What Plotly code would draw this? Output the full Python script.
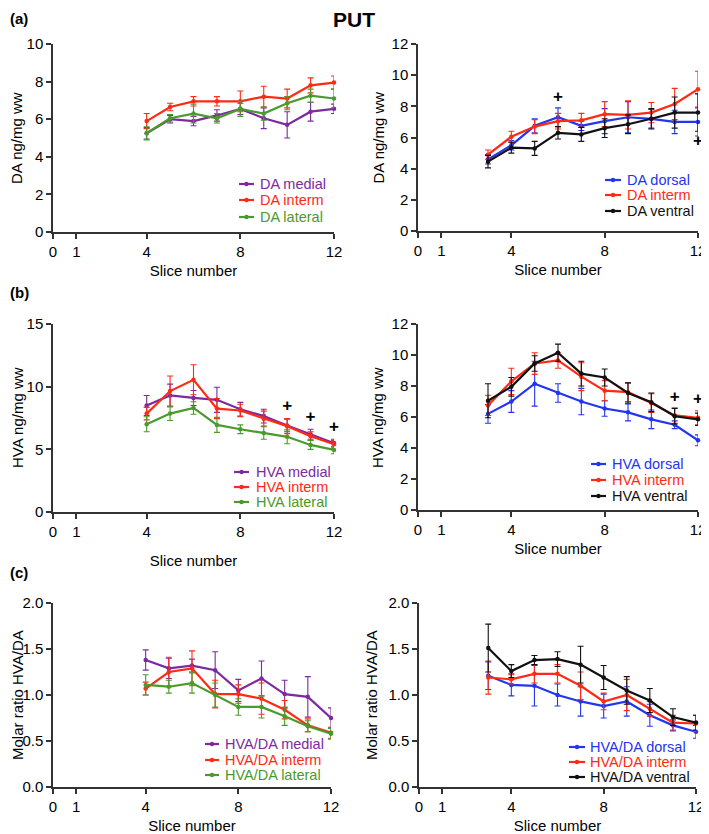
import plotly.graph_objects as go

PURPLE = '#7d2a9e'
RED = '#ff2a14'
GREEN = '#4a9a2c'
BLUE = '#2236f0'
BLACK = '#111111'
FONT = 'Arial, Liberation Sans, sans-serif'

# the page body keeps its 8px default margin, so the figure is drawn 8px in
OFF = 8
W, H = 709 - OFF, 834 - OFF


def px(x):
    return (x - OFF) / W


def py(y):
    return 1 - (y - OFF) / H


slices_mil = [4, 5, 6, 7, 8, 9, 10, 11, 12]
slices_div = [3, 4, 5, 6, 7, 8, 9, 10, 11, 12]

# (a) DA, medial / interm / lateral
da_medial = [5.25, 6.0, 5.9, 6.2, 6.55, 6.05, 5.7, 6.4, 6.55]
da_medial_err = [0.3, 0.2, 0.25, 0.3, 0.3, 0.55, 0.7, 0.5, 0.25]
da_interm_l = [5.9, 6.65, 6.95, 6.95, 6.95, 7.2, 7.1, 7.8, 7.95]
da_interm_l_err = [0.4, 0.2, 0.25, 0.25, 0.55, 0.55, 0.5, 0.4, 0.35]
da_lateral = [5.25, 6.05, 6.3, 6.05, 6.55, 6.3, 6.85, 7.25, 7.1]
da_lateral_err = [0.35, 0.2, 0.5, 0.25, 0.4, 0.35, 0.35, 0.35, 0.5]

# (a) DA, dorsal / interm / ventral
da_dorsal = [4.6, 5.5, 6.75, 7.3, 6.75, 7.05, 7.3, 7.2, 7.0, 7.0]
da_dorsal_err = [0.3, 0.3, 0.45, 0.6, 0.3, 0.8, 1.0, 0.6, 0.75, 0.9]
da_interm_r = [4.9, 6.05, 6.7, 7.05, 7.1, 7.5, 7.45, 7.6, 8.15, 9.1]
da_interm_r_err = [0.3, 0.35, 0.45, 0.5, 0.45, 0.8, 0.9, 0.65, 1.0, 1.15]
da_ventral = [4.45, 5.35, 5.3, 6.3, 6.2, 6.6, 6.85, 7.2, 7.6, 7.6]
da_ventral_err = [0.4, 0.35, 0.45, 0.4, 0.45, 0.6, 0.6, 0.65, 1.0, 1.2]

# (b) HVA, medial / interm / lateral
hva_medial = [8.5, 9.3, 9.1, 8.95, 8.2, 7.65, 6.9, 6.2, 5.5]
hva_medial_err = [0.8, 0.9, 0.6, 1.0, 0.55, 0.55, 0.5, 0.4, 0.3]
hva_interm_l = [7.85, 9.65, 10.55, 8.25, 8.1, 7.45, 6.85, 6.05, 5.4]
hva_interm_l_err = [0.5, 1.2, 1.2, 0.8, 0.5, 0.6, 0.6, 0.35, 0.3]
hva_lateral = [7.0, 7.85, 8.3, 6.95, 6.6, 6.3, 6.0, 5.35, 4.95]
hva_lateral_err = [0.6, 0.55, 0.5, 0.6, 0.35, 0.5, 0.55, 0.35, 0.3]

# (b) HVA, dorsal / interm / ventral
hva_dorsal = [6.2, 7.0, 8.15, 7.55, 7.0, 6.55, 6.3, 5.85, 5.5, 4.5]
hva_dorsal_err = [0.6, 0.7, 1.45, 0.6, 0.85, 0.5, 0.55, 0.6, 0.25, 0.35]
hva_interm_r = [6.75, 8.3, 9.45, 9.65, 8.6, 7.7, 7.6, 6.9, 6.1, 5.95]
hva_interm_r_err = [0.65, 0.85, 0.7, 0.5, 0.9, 0.65, 0.6, 0.6, 0.5, 0.45]
hva_ventral = [7.05, 7.95, 9.45, 10.15, 8.8, 8.55, 7.55, 6.95, 6.05, 5.85]
hva_ventral_err = [1.1, 0.6, 0.5, 0.55, 0.8, 0.55, 0.65, 0.6, 0.5, 0.4]

# (c) HVA/DA, medial / interm / lateral
ratio_medial = [1.38, 1.29, 1.32, 1.27, 1.05, 1.18, 1.01, 0.98, 0.75]
ratio_medial_err = [0.11, 0.11, 0.07, 0.2, 0.12, 0.19, 0.15, 0.22, 0.11]
ratio_interm_l = [1.07, 1.25, 1.29, 1.01, 1.01, 0.96, 0.84, 0.67, 0.59]
ratio_interm_l_err = [0.07, 0.16, 0.19, 0.15, 0.1, 0.17, 0.1, 0.07, 0.06]
ratio_lateral = [1.11, 1.09, 1.13, 1.0, 0.87, 0.87, 0.77, 0.66, 0.58]
ratio_lateral_err = [0.11, 0.07, 0.11, 0.13, 0.09, 0.12, 0.1, 0.06, 0.06]

# (c) HVA/DA, dorsal / interm / ventral
ratio_dorsal = [1.21, 1.11, 1.1, 1.0, 0.93, 0.88, 0.93, 0.78, 0.67, 0.6]
ratio_dorsal_err = [0.15, 0.12, 0.22, 0.12, 0.16, 0.13, 0.16, 0.12, 0.06, 0.07]
ratio_interm_r = [1.19, 1.17, 1.23, 1.23, 1.1, 0.93, 1.0, 0.85, 0.7, 0.69]
ratio_interm_r_err = [0.18, 0.05, 0.1, 0.1, 0.15, 0.09, 0.17, 0.08, 0.08, 0.09]
ratio_ventral = [1.51, 1.26, 1.38, 1.39, 1.33, 1.19, 1.05, 0.94, 0.76, 0.7]
ratio_ventral_err = [0.26, 0.07, 0.05, 0.08, 0.2, 0.13, 0.15, 0.13, 0.09, 0.08]

# significance "+" marks
sig_a_right_x = [6, 12]
sig_a_right_y = [8.55, 5.7]
sig_b_left_x = [10, 11, 12]
sig_b_left_y = [8.4, 7.5, 6.7]
sig_b_right_x = [11, 12]
sig_b_right_y = [7.25, 7.1]

# box = screen pixel frame of each panel (left, right, top, bottom)
# key = legend placement in screen pixels: line start/end, text start, row centres
# ytx = screen x of the rotated y title centre (left ones kept clear of the page margin)
panels = [
    dict(box=(53, 334, 44, 232), ymax=10, dtick=2, fmt='', ytitle='DA ng/mg ww', xstand=7, ytx=17,
         x=slices_mil, series=[('DA medial', da_medial, da_medial_err, PURPLE),
                               ('DA interm', da_interm_l, da_interm_l_err, RED),
                               ('DA lateral', da_lateral, da_lateral_err, GREEN)],
         key=(239, 254, 258, [184, 200, 217]), sig=None),
    dict(box=(418, 698, 44, 231), ymax=12, dtick=2, fmt='', ytitle='DA ng/mg ww', xstand=7, ytx=378,
         x=slices_div, series=[('DA dorsal', da_dorsal, da_dorsal_err, BLUE),
                               ('DA interm', da_interm_r, da_interm_r_err, RED),
                               ('DA ventral', da_ventral, da_ventral_err, BLACK)],
         key=(605, 621, 625, [180, 195, 211]), sig=(sig_a_right_x, sig_a_right_y)),
    dict(box=(53, 334, 324, 512), ymax=15, dtick=5, fmt='', ytitle='HVA ng/mg ww', xstand=17, ytx=17,
         x=slices_mil, series=[('HVA medial', hva_medial, hva_medial_err, PURPLE),
                               ('HVA interm', hva_interm_l, hva_interm_l_err, RED),
                               ('HVA lateral', hva_lateral, hva_lateral_err, GREEN)],
         key=(234, 249, 254, [472, 487, 502]), sig=(sig_b_left_x, sig_b_left_y)),
    dict(box=(418, 698, 324, 510), ymax=12, dtick=2, fmt='', ytitle='HVA ng/mg ww', xstand=7, ytx=378,
         x=slices_div, series=[('HVA dorsal', hva_dorsal, hva_dorsal_err, BLUE),
                               ('HVA interm', hva_interm_r, hva_interm_r_err, RED),
                               ('HVA ventral', hva_ventral, hva_ventral_err, BLACK)],
         key=(591, 606, 610, [464, 480, 496]), sig=(sig_b_right_x, sig_b_right_y)),
    dict(box=(53, 331, 603, 787), ymax=2, dtick=0.5, fmt='.1f', ytitle='Molar ratio HVA/DA', xstand=9, ytx=17,
         x=slices_mil, series=[('HVA/DA medial', ratio_medial, ratio_medial_err, PURPLE),
                               ('HVA/DA interm', ratio_interm_l, ratio_interm_l_err, RED),
                               ('HVA/DA lateral', ratio_lateral, ratio_lateral_err, GREEN)],
         key=(205, 219, 223, [744, 760, 775]), sig=None),
    dict(box=(419, 696, 603, 787), ymax=2, dtick=0.5, fmt='.1f', ytitle='Molar ratio HVA/DA', xstand=9, ytx=371,
         x=slices_div, series=[('HVA/DA dorsal', ratio_dorsal, ratio_dorsal_err, BLUE),
                               ('HVA/DA interm', ratio_interm_r, ratio_interm_r_err, RED),
                               ('HVA/DA ventral', ratio_ventral, ratio_ventral_err, BLACK)],
         key=(569, 585, 588, [747, 762, 777]), sig=None),
]

fig = go.Figure()
layout = dict()
shapes = []
annotations = []

for i, p in enumerate(panels, start=1):
    sfx = '' if i == 1 else str(i)
    left, right, top, bottom = p['box']
    kx0, kx1, ktx, krows = p['key']

    for (name, vals, errs, color), ky in zip(p['series'], krows):
        fig.add_trace(go.Scatter(
            x=p['x'], y=vals,
            error_y=dict(type='data', array=errs, color=color, thickness=1.1, width=3),
            mode='lines+markers',
            line=dict(color=color, width=2.2),
            marker=dict(color=color, size=4.5, symbol='circle'),
            name=name, showlegend=False,
            xaxis=f'x{sfx}', yaxis=f'y{sfx}', cliponaxis=False,
        ))
        # legend key drawn by hand so rows sit as tight as in the original
        yk = py(ky)
        shapes.append(dict(type='line', xref='paper', yref='paper',
                           x0=px(kx0), x1=px(kx1), y0=yk, y1=yk,
                           line=dict(color=color, width=2.2)))
        xc = (kx0 + kx1) / 2
        shapes.append(dict(type='circle', xref='paper', yref='paper',
                           x0=px(xc - 2.2), x1=px(xc + 2.2),
                           y0=yk - 2.2 / H, y1=yk + 2.2 / H,
                           fillcolor=color, line=dict(color=color, width=0)))
        annotations.append(dict(text=name, x=px(ktx), y=yk, xref='paper', yref='paper',
                                xanchor='left', yanchor='middle', showarrow=False,
                                font=dict(size=14.5, color=color, family=FONT)))

    if p['sig']:
        fig.add_trace(go.Scatter(
            x=p['sig'][0], y=p['sig'][1], mode='text', text=['<b>+</b>'] * len(p['sig'][0]),
            textfont=dict(size=17, color='black', family=FONT),
            xaxis=f'x{sfx}', yaxis=f'y{sfx}', showlegend=False, cliponaxis=False,
        ))

    # y title as a rotated annotation so it sits where the original has it
    annotations.append(dict(text=p['ytitle'], textangle=-90, x=px(p['ytx']), y=py((top + bottom) / 2),
                            xref='paper', yref='paper', xanchor='center', yanchor='middle',
                            showarrow=False, font=dict(size=15, color='black', family=FONT)))

    axis_common = dict(
        showline=True, linecolor='#333333', linewidth=1.5, ticks='outside', ticklen=5,
        tickwidth=1.5, tickcolor='#333333', showgrid=False, zeroline=False,
        automargin=False, tickfont=dict(size=15, color='black', family=FONT),
    )
    layout[f'xaxis{sfx}'] = dict(
        axis_common, domain=[px(left), px(right)], range=[0, 12],
        tickvals=[0, 1, 4, 8, 12], anchor=f'y{sfx}',
        title=dict(text='Slice number', font=dict(size=15, color='black', family=FONT),
                   standoff=p['xstand']),
    )
    layout[f'yaxis{sfx}'] = dict(
        axis_common, domain=[py(bottom), py(top)], range=[0, p['ymax']],
        dtick=p['dtick'], tick0=0, tickformat=p['fmt'], anchor=f'x{sfx}',
    )

annotations.append(dict(text='<b>PUT</b>', x=px(354), y=py(19), xref='paper', yref='paper',
                        xanchor='center', yanchor='middle', showarrow=False,
                        font=dict(size=21, color='black', family=FONT)))
for label, ypx in [('(a)', 18), ('(b)', 292), ('(c)', 572)]:
    annotations.append(dict(text=f'<b>{label}</b>', x=0, y=py(ypx), xref='paper', yref='paper',
                            xanchor='left', yanchor='middle', showarrow=False,
                            font=dict(size=15, color='black', family=FONT)))

fig.update_layout(
    width=W, height=H,
    margin=dict(l=0, r=0, t=0, b=0),
    paper_bgcolor='white', plot_bgcolor='white',
    font=dict(family=FONT, color='black'),
    showlegend=False,
    shapes=shapes,
    annotations=annotations,
    **layout,
)

fig.write_html("out.html")
